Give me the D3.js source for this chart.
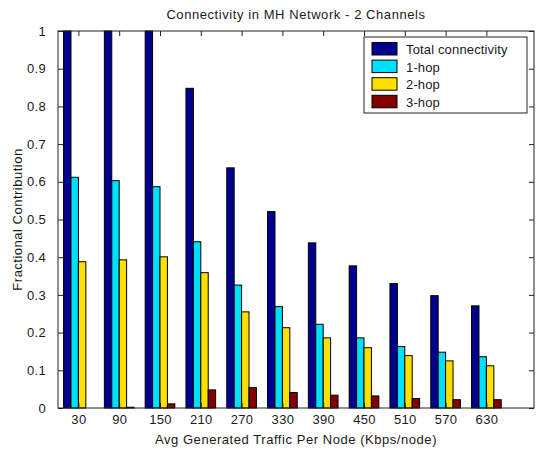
<!DOCTYPE html>
<html>
<head>
<meta charset="utf-8">
<script src="https://cdn.jsdelivr.net/npm/d3@7"></script>
<style>
  html, body { margin: 0; padding: 0; background: #fff; }
  svg text { font-family: "Liberation Sans", Arial, sans-serif; fill: #1a1a1a; }
</style>
</head>
<body>
<svg id="chart" width="541" height="452"></svg>
<script>
// Offered traffic per node (Kbps/node)
const traffic = [30, 90, 150, 210, 270, 330, 390, 450, 510, 570, 630];

// Fractional contribution per series
const totalConnectivity = [1.0, 1.0, 1.0, 0.848, 0.637, 0.521, 0.438, 0.377, 0.330, 0.298, 0.271];
const oneHop   = [0.612, 0.603, 0.587, 0.441, 0.326, 0.269, 0.222, 0.186, 0.163, 0.148, 0.136];
const twoHop   = [0.388, 0.393, 0.401, 0.359, 0.255, 0.213, 0.186, 0.160, 0.139, 0.125, 0.112];
const threeHop = [0.0, 0.002, 0.011, 0.048, 0.054, 0.041, 0.034, 0.032, 0.025, 0.022, 0.022];

const seriesNames = ["Total connectivity", "1-hop", "2-hop", "3-hop"];
const seriesColors = ["#00008f", "#00dfff", "#ffdf00", "#840000"];
const seriesValues = [totalConnectivity, oneHop, twoHop, threeHop];

const yTicks = [0, 0.1, 0.2, 0.3, 0.4, 0.5, 0.6, 0.7, 0.8, 0.9, 1];
const yTickLabels = ["0", "0.1", "0.2", "0.3", "0.4", "0.5", "0.6", "0.7", "0.8", "0.9", "1"];

const svg = d3.select("#chart");
const plotL = 58, plotR = 534, plotT = 31, plotB = 408;

const x = d3.scaleLinear().domain([0, 700]).range([plotL, plotR]);
const y = d3.scaleLinear().domain([0, 1]).range([plotB, plotT]);

// grouped bar geometry: 4 bars sharing 4/5.5 of the category spacing
const spacing = 60;
const groupW = spacing * seriesNames.length / (seriesNames.length + 1.5);
const barW = groupW / seriesNames.length;

svg.append("rect").attr("x", plotL).attr("y", plotT)
  .attr("width", plotR - plotL).attr("height", plotB - plotT).attr("fill", "#fff");

const rows = [];
seriesValues.forEach((vals, s) => {
  vals.forEach((v, i) => rows.push({ s, t: traffic[i], v }));
});

svg.append("g").selectAll("rect").data(rows).join("rect")
  .attr("x", d => x(d.t + (d.s - seriesNames.length / 2) * barW))
  .attr("width", d => x(barW) - x(0))
  .attr("y", d => y(d.v))
  .attr("height", d => y(0) - y(d.v))
  .attr("fill", d => seriesColors[d.s])
  .attr("stroke", "#000")
  .attr("stroke-width", 1);

// axes with inward ticks on all four sides
const tickLen = 5;
const axisStyle = g => {
  g.select(".domain").remove();
  g.selectAll(".tick line").attr("stroke", "#222");
  g.selectAll(".tick text").attr("font-size", 13).attr("fill", "#1a1a1a")
    .attr("letter-spacing", 0.3)
    .attr("font-family", "'Liberation Sans', Arial, sans-serif");
};

svg.append("g").attr("transform", `translate(0,${plotB})`)
  .call(d3.axisBottom(x).tickValues(traffic).tickSize(-tickLen).tickPadding(7).tickFormat(d3.format("d")))
  .call(axisStyle);
svg.append("g").attr("transform", `translate(0,${plotT})`)
  .call(d3.axisTop(x).tickValues(traffic).tickSize(-tickLen).tickFormat(""))
  .call(axisStyle);
svg.append("g").attr("transform", `translate(${plotL},0)`)
  .call(d3.axisLeft(y).tickValues(yTicks).tickSize(-tickLen).tickPadding(12)
    .tickFormat((d, i) => yTickLabels[i]))
  .call(axisStyle);
svg.append("g").attr("transform", `translate(${plotR},0)`)
  .call(d3.axisRight(y).tickValues(yTicks).tickSize(-tickLen).tickFormat(""))
  .call(axisStyle);

svg.append("rect").attr("x", plotL).attr("y", plotT)
  .attr("width", plotR - plotL).attr("height", plotB - plotT)
  .attr("fill", "none").attr("stroke", "#222").attr("stroke-width", 1);

// titles
svg.append("text").attr("x", (plotL + plotR) / 2).attr("y", 19)
  .attr("text-anchor", "middle").attr("font-size", 13).attr("letter-spacing", 0.57)
  .text("Connectivity in MH Network - 2 Channels");
svg.append("text").attr("x", (plotL + plotR) / 2).attr("y", 444)
  .attr("text-anchor", "middle").attr("font-size", 13).attr("letter-spacing", 0.55)
  .text("Avg Generated Traffic Per Node (Kbps/node)");
svg.append("text").attr("transform", `translate(22,${(plotT + plotB) / 2}) rotate(-90)`)
  .attr("text-anchor", "middle").attr("font-size", 13).attr("letter-spacing", 0.5)
  .text("Fractional Contribution");

// legend
const lg = svg.append("g").attr("transform", "translate(364,37)");
lg.append("rect").attr("width", 163).attr("height", 76)
  .attr("fill", "#fff").attr("stroke", "#222");
const items = lg.selectAll("g").data(seriesNames).join("g")
  .attr("transform", (d, i) => `translate(8,${5.5 + i * 17.6})`);
items.append("rect").attr("width", 25).attr("height", 12.5)
  .attr("fill", (d, i) => seriesColors[i]).attr("stroke", "#000");
items.append("text").attr("x", 34).attr("y", 11.5).attr("font-size", 13)
  .attr("letter-spacing", 0.15).text(d => d);
</script>
</body>
</html>
